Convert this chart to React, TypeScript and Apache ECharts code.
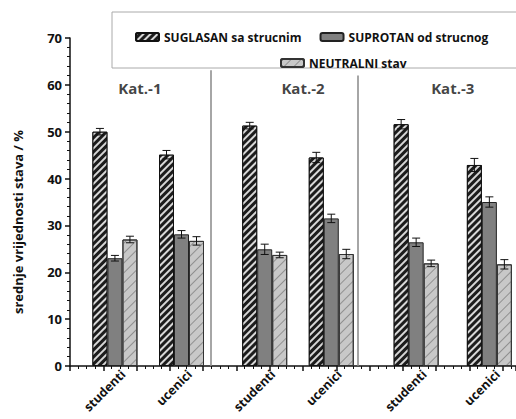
import React, { useEffect, useRef } from "react";
import * as echarts from "echarts";

const seriesNames = ["SUGLASAN sa strucnim", "SUPROTAN od strucnog", "NEUTRALNI stav"];
const groupLabels = ["studenti", "ucenici", "studenti", "ucenici", "studenti", "ucenici"];
const groupX = [1.35, 3.35, 5.85, 7.85, 10.4, 12.6];
const suglasan = [50.0, 45.1, 51.3, 44.5, 51.6, 42.9];
const suglasanErr = [0.7, 0.9, 0.7, 1.1, 1.0, 1.4];
const suprotan = [23.0, 28.1, 24.9, 31.5, 26.4, 35.0];
const suprotanErr = [0.6, 0.8, 1.1, 0.9, 0.9, 1.1];
const neutralni = [27.0, 26.7, 23.7, 23.9, 21.9, 21.7];
const neutralniErr = [0.7, 0.9, 0.6, 1.0, 0.7, 1.0];
const katLabels = ["Kat.-1", "Kat.-2", "Kat.-3"];
const katX = [2.1, 7.0, 11.5];
const katY = 59.3;
const sepX = [4.68, 9.1];
const sepTop = [63.1, 62.0];
const yTicks = [0, 10, 20, 30, 40, 50, 60, 70];

const FONT = "'Open Sans', 'DejaVu Sans', sans-serif";
const BAR_W = 15;
const LABEL_SHIFT = 0.25;

export default function App() {
  const ref = useRef<HTMLDivElement>(null);
  useEffect(() => {
    if (!ref.current) return;
    const chart = echarts.init(ref.current, undefined, { renderer: "svg" });
    const values = [suglasan, suprotan, neutralni];
    const errs = [suglasanErr, suprotanErr, neutralniErr];
    const labelX = groupX.map((x) => x + LABEL_SHIFT);
    const styles = [
      {
        color: "#1c1c1c",
        borderColor: "#111",
        borderWidth: 1,
        decal: {
          symbol: "rect",
          symbolSize: 1,
          color: "rgba(235,235,235,0.9)",
          dashArrayX: [1, 0],
          dashArrayY: [1.5, 2.5],
          rotation: -Math.PI / 4,
        },
      },
      { color: "#808080", borderColor: "#222", borderWidth: 1 },
      {
        color: "#c8c8c8",
        borderColor: "#333",
        borderWidth: 1,
        decal: {
          symbol: "rect",
          symbolSize: 1,
          color: "rgba(120,120,120,0.7)",
          dashArrayX: [1, 0],
          dashArrayY: [1, 6],
          rotation: -Math.PI / 4,
        },
      },
    ];
    const barSeries = seriesNames.map((name, i) => ({
      name,
      type: "bar",
      barWidth: BAR_W,
      barGap: "0%",
      itemStyle: styles[i],
      data: groupX.map((x, j) => [x, values[i][j]]),
      markLine:
        i === 0
          ? {
              silent: true,
              symbol: "none",
              label: { show: false },
              lineStyle: { color: "#888", width: 1.5, type: "solid" },
              data: sepX.map((x, k) => [
                { coord: [x, 0] },
                { coord: [x, sepTop[k]] },
              ]),
            }
          : undefined,
    }));
    const errData: number[][] = [];
    for (let i = 0; i < 3; i++) {
      for (let j = 0; j < groupX.length; j++) {
        errData.push([groupX[j], values[i][j], errs[i][j], i]);
      }
    }
    const legendText = { fontFamily: FONT, fontWeight: "bold", fontSize: 12, color: "#111" };
    const option: any = {
      animation: false,
      backgroundColor: "#fff",
      grid: { left: 70, right: 0, top: 38, bottom: 53, containLabel: false, outerBoundsMode: "none" },
      legend: [
        {
          data: seriesNames.slice(0, 2),
          left: 130,
          top: 26,
          itemWidth: 23,
          itemHeight: 8,
          itemGap: 18,
          selectedMode: false,
          textStyle: legendText,
        },
        {
          data: seriesNames.slice(2),
          left: 275,
          top: 52,
          itemWidth: 23,
          itemHeight: 8,
          selectedMode: false,
          textStyle: legendText,
        },
      ],
      graphic: [
        {
          type: "rect",
          z: 0,
          shape: { x: 112, y: 12, width: 420, height: 56 },
          style: { fill: "#fff", stroke: "#aaa", lineWidth: 1 },
        },
        {
          type: "text",
          x: 18,
          y: 222,
          rotation: Math.PI / 2,
          style: {
            text: "srednje vrijednosti stava / %",
            fontFamily: FONT,
            fontWeight: "bold",
            fontSize: 13,
            fill: "#111",
            textAlign: "center",
            textVerticalAlign: "middle",
          },
        },
      ],
      xAxis: {
        type: "value",
        min: 0,
        max: 13.4,
        interval: 1,
        axisLine: { show: true, lineStyle: { color: "#111", width: 1.5 } },
        axisTick: { show: true, length: 5, lineStyle: { color: "#111", width: 1.5 } },
        minorTick: { show: true, splitNumber: 4, length: 3, lineStyle: { color: "#111", width: 1 } },
        splitLine: { show: false },
        minorSplitLine: { show: false },
        axisLabel: {
          customValues: labelX,
          rotate: 45,
          margin: 6,
          fontFamily: FONT,
          fontWeight: "bold",
          fontSize: 12.5,
          color: "#111",
          formatter: (v: number) => {
            const idx = labelX.findIndex((g) => Math.abs(g - v) < 1e-6);
            return idx >= 0 ? groupLabels[idx] : "";
          },
        },
      },
      yAxis: {
        type: "value",
        min: 0,
        max: 70,
        interval: 10,
        axisLine: { show: true, lineStyle: { color: "#111", width: 1.5 } },
        axisTick: { show: true, length: 5, lineStyle: { color: "#111", width: 1.5 } },
        minorTick: { show: true, splitNumber: 5, length: 3, lineStyle: { color: "#111", width: 1 } },
        splitLine: { show: false },
        axisLabel: {
          fontFamily: FONT,
          fontWeight: "bold",
          fontSize: 13,
          color: "#111",
          margin: 8,
          formatter: (v: number) => (yTicks.includes(v) ? String(v) : ""),
        },
      },
      series: [
        ...barSeries,
        {
          type: "custom",
          name: "err",
          z: 5,
          encode: { x: 0, y: 1 },
          data: errData,
          renderItem: (params: any, api: any) => {
            const x = api.value(0);
            const y = api.value(1);
            const e = api.value(2);
            const k = api.value(3);
            const off = (k - 1) * BAR_W;
            const top = api.coord([x, y + e]);
            const bot = api.coord([x, y - e]);
            const cx = top[0] + off;
            const hw = 4;
            const st = { stroke: "#111", lineWidth: 1 };
            return {
              type: "group",
              children: [
                { type: "line", shape: { x1: cx, y1: top[1], x2: cx, y2: bot[1] }, style: st },
                { type: "line", shape: { x1: cx - hw, y1: top[1], x2: cx + hw, y2: top[1] }, style: st },
                { type: "line", shape: { x1: cx - hw, y1: bot[1], x2: cx + hw, y2: bot[1] }, style: st },
              ],
            };
          },
        },
        {
          type: "scatter",
          symbolSize: 0,
          silent: true,
          data: katX.map((x, i) => [x, katY, katLabels[i]]),
          label: {
            show: true,
            position: "inside",
            formatter: (p: any) => p.data[2],
            fontFamily: FONT,
            fontWeight: "bold",
            fontSize: 15,
            color: "#111",
          },
        },
      ],
    };
    chart.setOption(option);
    return () => chart.dispose();
  }, []);
  return (
    <div
      ref={ref}
      style={{ position: "absolute", left: 0, top: 0, width: 516, height: 419 }}
    />
  );
}
